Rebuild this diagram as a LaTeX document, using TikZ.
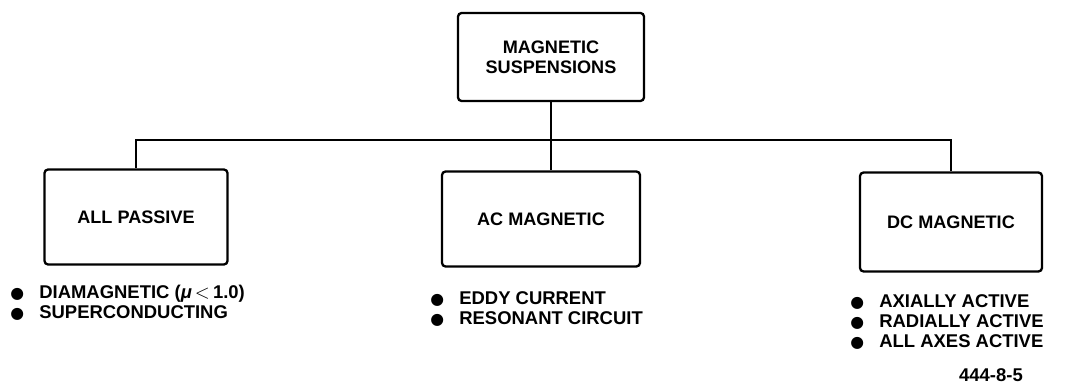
\documentclass[tikz,border=0pt]{standalone}
\usepackage{fontspec}
\setmainfont{Liberation Sans}
\newfontfamily\symfont{DejaVu Sans}
\newcommand{\bul}{\makebox[0.58cm][l]{{\symfont\fontsize{9}{9}\selectfont ●}}}
\begin{document}
\begin{tikzpicture}[x=0.02cm,y=-0.02cm,
    box/.style={draw,line width=1.3pt,rounded corners=2pt,align=center,
        font=\fontsize{10.3}{11.5}\selectfont\bfseries},
    items/.style={anchor=west,inner sep=0pt,align=left,
        font=\fontsize{10.5}{11.6}\selectfont\bfseries}]
    \useasboundingbox (0,0) rectangle (1075,391);
    \node[box,minimum width=3.72cm,minimum height=1.76cm] (ms) at (551,57) {MAGNETIC\\SUSPENSIONS};
    \node[box,minimum width=3.66cm,minimum height=1.9cm] (ap) at (136,217) {ALL PASSIVE};
    \node[box,minimum width=3.96cm,minimum height=1.9cm] (ac) at (541,219) {AC MAGNETIC};
    \node[box,minimum width=3.64cm,minimum height=1.98cm] (dc) at (951,222) {DC MAGNETIC};
    \coordinate (bus) at (551,140);
    \draw[line width=1.3pt] (ms.south) -- (ms.south |- ac.north);
    \draw[line width=1.3pt] (ap.north) |- (bus) -| (dc.north);
    % bullet lists
    \node[items] (aplist) at (10,303) {\bul DIAMAGNETIC ({\itshape μ}\,$<$\,1.0)\\\bul SUPERCONDUCTING};
    \node[items] (aclist) at (430,309) {\bul EDDY CURRENT\\\bul RESONANT CIRCUIT};
    \node[items] (dclist) at (850,322) {\bul AXIALLY ACTIVE\\\bul RADIALLY ACTIVE\\\bul ALL AXES ACTIVE};
    \node[font=\fontsize{10.5}{12}\selectfont\bfseries] (fig) at (991,375) {444-8-5};
\end{tikzpicture}
\end{document}
